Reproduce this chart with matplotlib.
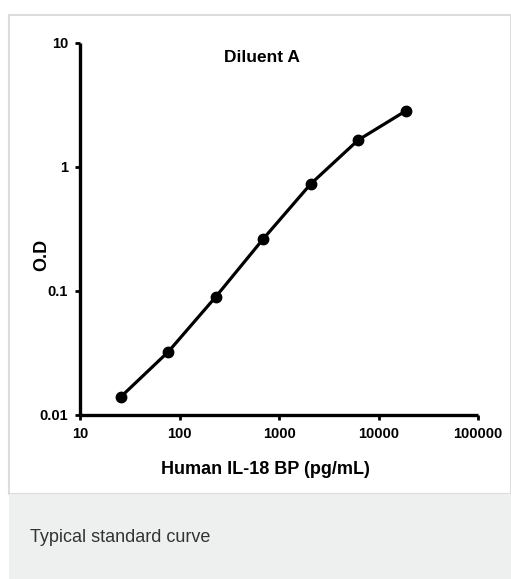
import numpy as np
import matplotlib
matplotlib.use("Agg")
import matplotlib.pyplot as plt
from matplotlib.patches import Rectangle

# standard curve data
conc = [25.7, 77, 231, 694, 2083, 6250, 18750]
od = [0.0140, 0.0323, 0.0896, 0.263, 0.73, 1.65, 2.83]

x_ticks = [10, 100, 1000, 10000, 100000]
x_labels = ["10", "100", "1000", "10000", "100000"]
y_ticks = [0.01, 0.1, 1, 10]
y_labels = ["0.01", "0.1", "1", "10"]

W, H = 511, 579
fig = plt.figure(figsize=(W / 100, H / 100), dpi=100)
fig.patch.set_facecolor("white")

# white panel with light border, grey caption band
fig.add_artist(Rectangle((9 / W, 1 - 494 / H), (W - 9) / W, (494 - 15) / H,
                         transform=fig.transFigure, facecolor="white",
                         edgecolor="#dcdcdc", linewidth=1.5, zorder=0))
fig.add_artist(Rectangle((9 / W, 0), (W - 9) / W, (579 - 494) / H,
                         transform=fig.transFigure, facecolor="#eeefef",
                         edgecolor="none", zorder=0))
fig.text(30 / W, 1 - 538 / H, "Typical standard curve", fontsize=13,
         family="Liberation Sans", color="#333333", va="center", ha="left")

fam = ["Liberation Sans", "DejaVu Sans"]

ax = fig.add_axes([80 / W, 1 - 415 / H, 398 / W, 372 / H])
ax.patch.set_alpha(0)
ax.set_xscale("log")
ax.set_yscale("log")
ax.set_xlim(10, 100000)
ax.set_ylim(0.01, 10)

ax.plot(conc, od, color="black", linewidth=2.3, marker="o", markersize=7.5,
        clip_on=False)

for s in ["top", "right"]:
    ax.spines[s].set_visible(False)
for s in ["left", "bottom"]:
    ax.spines[s].set_linewidth(2.4)
    ax.spines[s].set_capstyle("butt")

ax.minorticks_off()
ax.set_xticks(x_ticks)
ax.set_xticklabels(x_labels)
ax.set_yticks(y_ticks)
ax.set_yticklabels(y_labels)
ax.tick_params(axis="both", direction="out", length=3.5, width=2, pad=5)
for lab in ax.get_xticklabels() + ax.get_yticklabels():
    lab.set_family(fam)
    lab.set_fontweight("bold")
    lab.set_fontsize(10.5)

ax.set_xlabel("Human IL-18 BP (pg/mL)", family=fam, fontweight="bold",
              fontsize=13)
ax.xaxis.set_label_coords(0.465, -0.124)
ax.set_ylabel("O.D", family=fam, fontweight="bold", fontsize=13)
ax.yaxis.set_label_coords(-0.075, 0.43)
ax.text(0.457, 0.962, "Diluent A", transform=ax.transAxes, ha="center",
        va="center", family=fam, fontweight="bold", fontsize=12.5)

fig.savefig("out.png", dpi=100)
